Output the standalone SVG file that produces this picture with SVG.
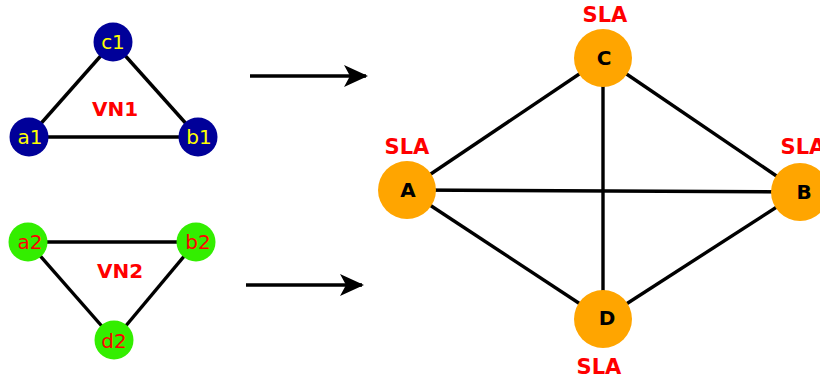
<svg xmlns="http://www.w3.org/2000/svg" width="820" height="383" viewBox="0 0 820 383">
  <style>
    .edge { stroke: #000; stroke-width: 3.4; fill: none; }
    .arrow { stroke: #000; stroke-width: 3.4; fill: none; }
    .vn1 { fill: #000099; }
    .vn2 { fill: #33ee00; }
    .phys { fill: #ffa500; }
    .lbl { font-family: "DejaVu Sans", sans-serif; font-size: 20px; text-anchor: middle; dominant-baseline: central; }
    .lbl1 { fill: #ffff00; }
    .lbl2 { fill: #ff0000; }
    .plbl { font-family: "DejaVu Sans", sans-serif; font-size: 20px; font-weight: bold; fill: #000; text-anchor: middle; dominant-baseline: central; }
    .title { font-family: "DejaVu Sans", sans-serif; font-size: 20px; font-weight: bold; fill: #ff0000; text-anchor: middle; dominant-baseline: central; }
    .sla { font-size: 21px; }
  </style>
  <defs>
    <marker id="head" viewBox="0 0 24 22" refX="22" refY="11" markerWidth="24" markerHeight="22" markerUnits="userSpaceOnUse" orient="auto">
      <path d="M0,0 L24,11 L0,22 L6,11 Z" fill="#000"/>
    </marker>
  </defs>

  <g id="connectors">
    <!-- VN1 -->
    <line class="edge" x1="113" y1="42" x2="29" y2="137"/>
    <line class="edge" x1="113" y1="42" x2="198" y2="137"/>
    <line class="edge" x1="29" y1="137" x2="198" y2="137"/>
    <!-- VN2 -->
    <line class="edge" x1="28" y1="242" x2="196" y2="242"/>
    <line class="edge" x1="28" y1="242" x2="114" y2="340"/>
    <line class="edge" x1="196" y1="242" x2="114" y2="340"/>
    <!-- mapping arrows -->
    <line class="arrow" x1="250" y1="76" x2="366" y2="76" marker-end="url(#head)"/>
    <line class="arrow" x1="246" y1="285" x2="362" y2="285" marker-end="url(#head)"/>
    <!-- substrate -->
    <line class="edge" x1="407" y1="190" x2="603" y2="58"/>
    <line class="edge" x1="407" y1="190" x2="800" y2="192"/>
    <line class="edge" x1="407" y1="190" x2="603" y2="319"/>
    <line class="edge" x1="603" y1="58" x2="800" y2="192"/>
    <line class="edge" x1="603" y1="58" x2="603" y2="319"/>
    <line class="edge" x1="800" y1="192" x2="603" y2="319"/>
  </g>

  <text class="title" x="115" y="109">VN1</text>
  <text class="title" x="120" y="271">VN2</text>

  <g id="c1"><circle class="vn1" cx="113" cy="42" r="19.5"/><text class="lbl lbl1" x="113" y="42">c1</text></g>
  <g id="a1"><circle class="vn1" cx="29" cy="137" r="19.5"/><text class="lbl lbl1" x="30" y="137">a1</text></g>
  <g id="b1"><circle class="vn1" cx="198" cy="137" r="19.5"/><text class="lbl lbl1" x="199" y="137">b1</text></g>

  <g id="a2"><circle class="vn2" cx="28" cy="242" r="19.5"/><text class="lbl lbl2" x="30" y="242">a2</text></g>
  <g id="b2"><circle class="vn2" cx="196" cy="242" r="19.5"/><text class="lbl lbl2" x="198" y="242">b2</text></g>
  <g id="d2"><circle class="vn2" cx="114" cy="340" r="19.5"/><text class="lbl lbl2" x="114" y="341">d2</text></g>

  <g id="A"><circle class="phys" cx="407" cy="190" r="29"/><text class="plbl" x="408" y="190">A</text><text class="title sla" x="407" y="147">SLA</text></g>
  <g id="C"><circle class="phys" cx="603" cy="58" r="29"/><text class="plbl" x="604" y="58">C</text><text class="title sla" x="605" y="15">SLA</text></g>
  <g id="B"><circle class="phys" cx="800" cy="192" r="29"/><text class="plbl" x="804" y="192">B</text><text class="title sla" x="803" y="147">SLA</text></g>
  <g id="D"><circle class="phys" cx="603" cy="319" r="29"/><text class="plbl" x="607" y="318">D</text><text class="title sla" x="599" y="367">SLA</text></g>
</svg>
